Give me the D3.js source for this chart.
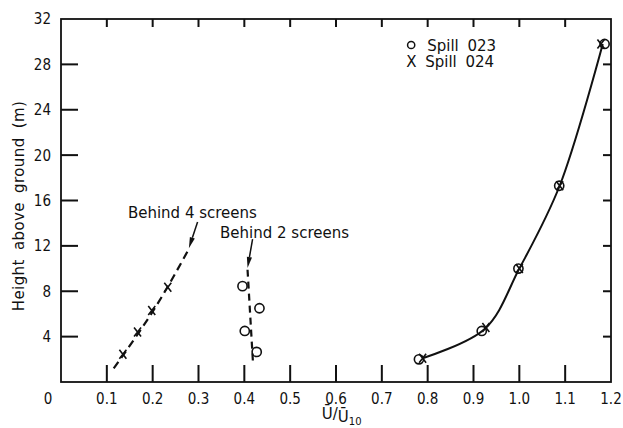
<!DOCTYPE html>
<html>
<head>
<meta charset="utf-8">
<script src="https://cdn.jsdelivr.net/npm/d3@7"></script>
<style>
  html, body { margin: 0; padding: 0; background: #fff; }
  svg { display: block; }
  .num { font-family: "DejaVu Sans Condensed", "DejaVu Sans", sans-serif; font-stretch: condensed; font-size: 15px; fill: #111; }
  .lbl { font-family: "DejaVu Sans", sans-serif; font-size: 15px; fill: #111; }
</style>
</head>
<body>
<svg id="chart" width="623" height="428"></svg>
<script>
// Mean wind speed ratio U/U10 against height above ground

// Spill 023 (circles), open field profile
const spill023U = [0.781, 0.918, 0.998, 1.087, 1.186];
const spill023H = [2.0, 4.5, 10.0, 17.3, 29.8];
// Spill 024 (crosses), open field profile
const spill024U = [0.789, 0.927, 1.0, 1.088, 1.178];
const spill024H = [2.1, 4.8, 10.0, 17.3, 29.8];

// Spill 023 behind 2 screens (circles)
const behind2U = [0.396, 0.433, 0.401, 0.427];
const behind2H = [8.45, 6.5, 4.5, 2.65];
// Spill 024 behind 4 screens (crosses)
const behind4U = [0.135, 0.167, 0.198, 0.233];
const behind4H = [2.45, 4.4, 6.3, 8.35];

// Fitted profiles
const fitOpenU = [0.789, 0.925, 1.0, 1.088, 1.182];
const fitOpenH = [2.1, 4.7, 10.0, 17.3, 29.8];
const fit4U = [0.115, 0.203, 0.28];
const fit4H = [1.2, 6.4, 11.8];
const fit2U = [0.407, 0.419];
const fit2H = [9.9, 1.6];

// Axis ticks
const xTicks = [0, 0.1, 0.2, 0.3, 0.4, 0.5, 0.6, 0.7, 0.8, 0.9, 1.0, 1.1, 1.2];
const xTickLabels = ["0", "0.1", "0.2", "0.3", "0.4", "0.5", "0.6", "0.7", "0.8", "0.9", "1.0", "1.1", "1.2"];
const yTicks = [4, 8, 12, 16, 20, 24, 28, 32];

// Labelled arrows, anchored in data units
const notes = [
  { text: "Behind 4 screens", tx: 0.146, ty: 14.45, x1: 0.298, y1: 14.1, x2: 0.279, y2: 11.8 },
  { text: "Behind 2 screens", tx: 0.347, ty: 12.7, x1: 0.418, y1: 12.6, x2: 0.407, y2: 10.05 }
];

const svg = d3.select("#chart");
const W = 623, H = 428;
const m = { top: 19, right: 12, bottom: 46, left: 61 };
const x = d3.scaleLinear().domain([0, 1.2]).range([m.left, W - m.right]);
const y = d3.scaleLinear().domain([0, 32]).range([H - m.bottom, m.top]);

const ink = "#111";
const xMin = x.domain()[0], xMax = x.domain()[1];
const yMin = y.domain()[0], yMax = y.domain()[1];

// Plot frame
svg.append("rect")
  .attr("x", x(xMin)).attr("y", y(yMax))
  .attr("width", x(xMax) - x(xMin)).attr("height", y(yMin) - y(yMax))
  .attr("fill", "none").attr("stroke", ink).attr("stroke-width", 1.8);

// Inward tick marks on all four sides, drawn as thin filled bars
const innerX = xTicks.filter(v => v > xMin + 1e-9 && v < xMax - 1e-9);
const innerY = yTicks.filter(v => v > yMin && v < yMax);
const tw = 2;
const ticks = svg.append("g").attr("class", "ticks");
ticks.selectAll("rect.tb").data(innerX).join("rect").attr("class", "tb")
  .attr("x", d => x(d) - tw / 2).attr("y", y(yMin) - 17).attr("width", tw).attr("height", 17).attr("fill", ink);
ticks.selectAll("rect.tt").data(innerX).join("rect").attr("class", "tt")
  .attr("x", d => x(d) - tw / 2).attr("y", y(yMax)).attr("width", tw).attr("height", 8).attr("fill", ink);
ticks.selectAll("rect.tl").data(innerY).join("rect").attr("class", "tl")
  .attr("x", x(xMin)).attr("y", d => y(d) - tw / 2).attr("width", 17).attr("height", tw).attr("fill", ink);
ticks.selectAll("rect.tr").data(innerY).join("rect").attr("class", "tr")
  .attr("x", x(xMax) - 8).attr("y", d => y(d) - tw / 2).attr("width", 8).attr("height", tw).attr("fill", ink);

// Tick labels
svg.append("g").selectAll("text").data(xTicks).join("text")
  .attr("class", "num")
  .attr("x", d => d === xMin ? x(d) - 13 : x(d))
  .attr("y", y(yMin) + 22)
  .attr("text-anchor", "middle")
  .text((d, i) => xTickLabels[i]);
svg.append("g").selectAll("text").data(yTicks).join("text")
  .attr("class", "num")
  .attr("x", x(xMin) - 10)
  .attr("y", d => y(d))
  .attr("dy", "0.36em")
  .attr("text-anchor", "end")
  .text(d => d);

// Axis titles
svg.append("text")
  .attr("class", "lbl")
  .attr("transform", `translate(24,206) rotate(-90)`)
  .attr("text-anchor", "middle")
  .attr("word-spacing", "4px")
  .attr("letter-spacing", "0.4px")
  .text("Height above ground (m)");

const xt = svg.append("text").attr("class", "lbl").attr("font-size", "13px")
  .attr("x", x(0.569)).attr("y", 419);
xt.append("tspan").text("Ū");
xt.append("tspan").text("/");
xt.append("tspan").attr("dy", 3).text("Ū");
xt.append("tspan").attr("dy", 3).attr("font-size", "10px").text("10");

// Fitted profiles
svg.append("path")
  .datum(d3.zip(fitOpenU, fitOpenH))
  .attr("d", d3.line().x(d => x(d[0])).y(d => y(d[1])).curve(d3.curveCatmullRom.alpha(0.5)))
  .attr("fill", "none").attr("stroke", ink).attr("stroke-width", 2);
svg.append("path")
  .datum(d3.zip(fit4U, fit4H))
  .attr("d", d3.line().x(d => x(d[0])).y(d => y(d[1])).curve(d3.curveNatural))
  .attr("fill", "none").attr("stroke", ink).attr("stroke-width", 2.2)
  .attr("stroke-dasharray", "8,5");
svg.append("path")
  .datum(d3.zip(fit2U, fit2H))
  .attr("d", d3.line().x(d => x(d[0])).y(d => y(d[1])))
  .attr("fill", "none").attr("stroke", ink).attr("stroke-width", 2.2)
  .attr("stroke-dasharray", "7,5");

// Markers
function circles(us, hs) {
  svg.append("g").selectAll("circle")
    .data(d3.zip(us, hs)).join("circle")
    .attr("cx", d => x(d[0])).attr("cy", d => y(d[1])).attr("r", 4.6)
    .attr("fill", "none").attr("stroke", ink).attr("stroke-width", 1.6);
}
function crosses(us, hs) {
  svg.append("g").selectAll("path")
    .data(d3.zip(us, hs)).join("path")
    .attr("d", d => {
      const cx = x(d[0]), cy = y(d[1]);
      return `M${cx - 3.5},${cy - 4.5}L${cx + 3.5},${cy + 4.5}M${cx + 3.5},${cy - 4.5}L${cx - 3.5},${cy + 4.5}`;
    })
    .attr("fill", "none").attr("stroke", ink).attr("stroke-width", 1.6);
}
circles(spill023U, spill023H);
crosses(spill024U, spill024H);
circles(behind2U, behind2H);
crosses(behind4U, behind4H);

// Annotations with arrows
notes.forEach(n => {
  svg.append("text").attr("class", "lbl").attr("x", x(n.tx)).attr("y", y(n.ty)).text(n.text);
  const ax = x(n.x1), ay = y(n.y1), bx = x(n.x2), by = y(n.y2);
  const dx = bx - ax, dy = by - ay, len = Math.hypot(dx, dy);
  const ux = dx / len, uy = dy / len, px = -uy, py = ux;
  const hl = 11, hw = 2.6;
  const baseX = bx - ux * hl, baseY = by - uy * hl;
  svg.append("line").attr("x1", ax).attr("y1", ay).attr("x2", baseX).attr("y2", baseY)
    .attr("stroke", ink).attr("stroke-width", 1.5);
  svg.append("path")
    .attr("d", `M${bx},${by}L${baseX + px * hw},${baseY + py * hw}L${baseX - px * hw},${baseY - py * hw}Z`)
    .attr("fill", ink);
});

// Legend
const lg = svg.append("g").attr("transform", `translate(${x(0.764)},${y(yMax)})`);
lg.append("circle").attr("cx", 0).attr("cy", 26).attr("r", 3.6)
  .attr("fill", "none").attr("stroke", ink).attr("stroke-width", 1.5);
lg.append("text").attr("class", "lbl").attr("x", 16).attr("y", 32).attr("word-spacing", "4px").text("Spill 023");
lg.append("text").attr("class", "lbl").attr("x", -5).attr("y", 48).text("X");
lg.append("text").attr("class", "lbl").attr("x", 14).attr("y", 48).attr("word-spacing", "4px").text("Spill 024");
</script>
</body>
</html>
